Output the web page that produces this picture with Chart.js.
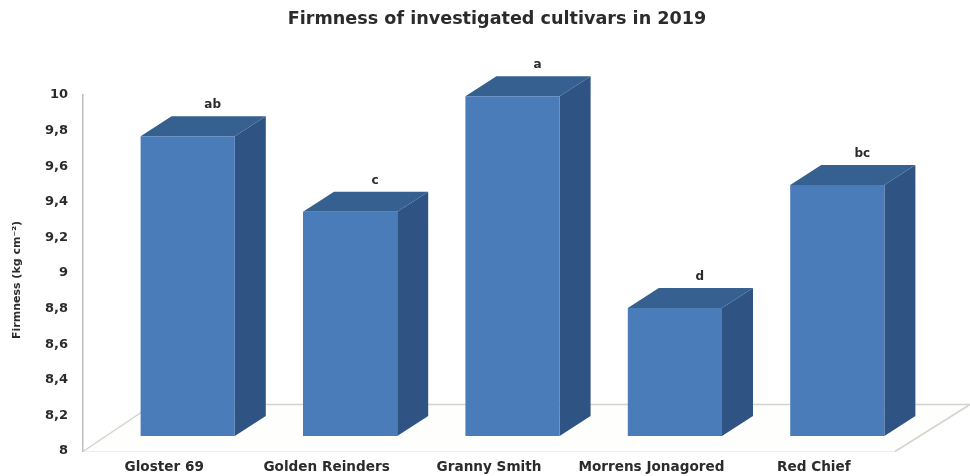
<!DOCTYPE html>
<html>
<head>
<meta charset="utf-8">
<style>
  html, body { margin: 0; padding: 0; background: #ffffff; }
  #wrap { position: relative; width: 970px; height: 476px; }
</style>
<script src="https://cdn.jsdelivr.net/npm/chart.js@4/dist/chart.umd.min.js"></script>
</head>
<body>
<div id="wrap"><canvas id="chart" width="970" height="476"></canvas></div>
<script>
const cultivars = ['Gloster 69', 'Golden Reinders', 'Granny Smith', 'Morrens Jonagored', 'Red Chief'];
const firmness = [9.685, 9.26, 9.91, 8.72, 9.41];
const significance = ['ab', 'c', 'a', 'd', 'bc'];
const yTickLabels = ['8', '8,2', '8,4', '8,6', '8,8', '9', '9,2', '9,4', '9,6', '9,8', '10'];
const yAxisTitle = 'Firmness (kg cm⁻²)';

const FRONT = '#4a7cba';
const TOP_FACE = '#35608f';
const SIDE_FACE = '#2f5483';
const AXIS_GREY = '#bdbdbd';
const TEXT = '#2b2b2b';

// Depth of the pseudo-3D box, and how far bars sit behind the front floor edge.
const DEPTH_X = 31, DEPTH_Y = 20;
const BAR_SHIFT_X = 23.5, BAR_SHIFT_Y = 15;

function polygon(ctx, pts, fill) {
  ctx.beginPath();
  pts.forEach((p, i) => (i ? ctx.lineTo(p[0], p[1]) : ctx.moveTo(p[0], p[1])));
  ctx.closePath();
  ctx.fillStyle = fill;
  ctx.fill();
}

// Floor of the 3D plot, the box faces behind each bar and the significance letters.
const boxFaces = {
  id: 'boxFaces',
  afterLayout(chart) {
    // The heading is centred over the page area rather than the plot.
    chart.titleBlock.left = 24;
    chart.titleBlock.right = 970;
  },
  beforeDatasetsDraw(chart) {
    const { ctx, chartArea: a } = chart;
    const bottom = a.bottom + 0.5;
    const backY = bottom - 47;
    const rightBack = a.right + 75;
    ctx.save();
    polygon(ctx, [[a.left, bottom], [a.left + 70, backY], [rightBack, backY], [a.right, bottom]], '#fefefc');
    ctx.strokeStyle = '#d4d4ce';
    ctx.lineWidth = 1.5;
    ctx.beginPath();
    ctx.moveTo(a.left, bottom);
    ctx.lineTo(a.left + 70, backY);
    ctx.lineTo(rightBack, backY);
    ctx.lineTo(a.right, bottom);
    ctx.stroke();
    ctx.restore();

    ctx.save();
    ctx.translate(BAR_SHIFT_X, -BAR_SHIFT_Y);
    chart.getDatasetMeta(0).data.forEach((bar) => {
      const half = bar.width / 2;
      const l = bar.x - half, r = bar.x + half, t = bar.y, b = bar.base;
      polygon(ctx, [[r, t], [r + DEPTH_X, t - DEPTH_Y], [r + DEPTH_X, b - DEPTH_Y], [r, b]], SIDE_FACE);
      polygon(ctx, [[l, t], [l + DEPTH_X, t - DEPTH_Y], [r + DEPTH_X, t - DEPTH_Y], [r, t]], TOP_FACE);
    });
    // Kept open until afterDatasetsDraw so the library's bars share the same offset.
    ctx.save();
  },
  afterDatasetsDraw(chart) {
    const { ctx } = chart;
    ctx.restore();
    ctx.restore();
    ctx.save();
    ctx.fillStyle = TEXT;
    ctx.font = 'bold 12px "DejaVu Sans"';
    ctx.textAlign = 'center';
    ctx.textBaseline = 'middle';
    chart.getDatasetMeta(0).data.forEach((bar, i) => {
      ctx.fillText(significance[i], bar.x + BAR_SHIFT_X + 25, bar.y - BAR_SHIFT_Y - 31);
    });
    // Value-axis caption, set slightly below the middle of the axis.
    ctx.font = 'bold 11px "DejaVu Sans"';
    ctx.translate(17, 280);
    ctx.rotate(-Math.PI / 2);
    ctx.fillText(yAxisTitle, 0, 0);
    ctx.restore();
  }
};

new Chart(document.getElementById('chart'), {
  type: 'bar',
  data: {
    labels: cultivars,
    datasets: [{
      data: firmness,
      base: 8,
      backgroundColor: FRONT,
      categoryPercentage: 1,
      barPercentage: 0.58,
      clip: false
    }]
  },
  plugins: [boxFaces],
  options: {
    responsive: false,
    animation: false,
    layout: { padding: { top: 6, right: 75, bottom: 0, left: 10 } },
    plugins: {
      legend: { display: false },
      tooltip: { enabled: false },
      title: {
        display: true,
        text: 'Firmness of investigated cultivars in 2019',
        color: TEXT,
        font: { family: '"DejaVu Sans"', size: 17.6, weight: 'bold' },
        padding: { top: 3, bottom: 65 }
      }
    },
    scales: {
      x: {
        afterFit(scale) { scale.height = 25; },
        grid: { display: false },
        border: { color: AXIS_GREY, width: 1.5 },
        ticks: {
          color: TEXT,
          maxRotation: 0,
          padding: 0,
          font: { family: '"DejaVu Sans"', size: 13.6, weight: 'bold' }
        }
      },
      y: {
        min: 8,
        max: 10,
        afterFit(scale) { scale.width = 73; },
        grid: { display: false },
        border: { color: AXIS_GREY, width: 1.5 },
        ticks: {
          stepSize: 0.2,
          color: TEXT,
          padding: 7,
          callback: (value, index) => yTickLabels[index],
          font: { family: '"DejaVu Sans"', size: 13, weight: 'bold' }
        }
      }
    }
  }
});
</script>
</body>
</html>
